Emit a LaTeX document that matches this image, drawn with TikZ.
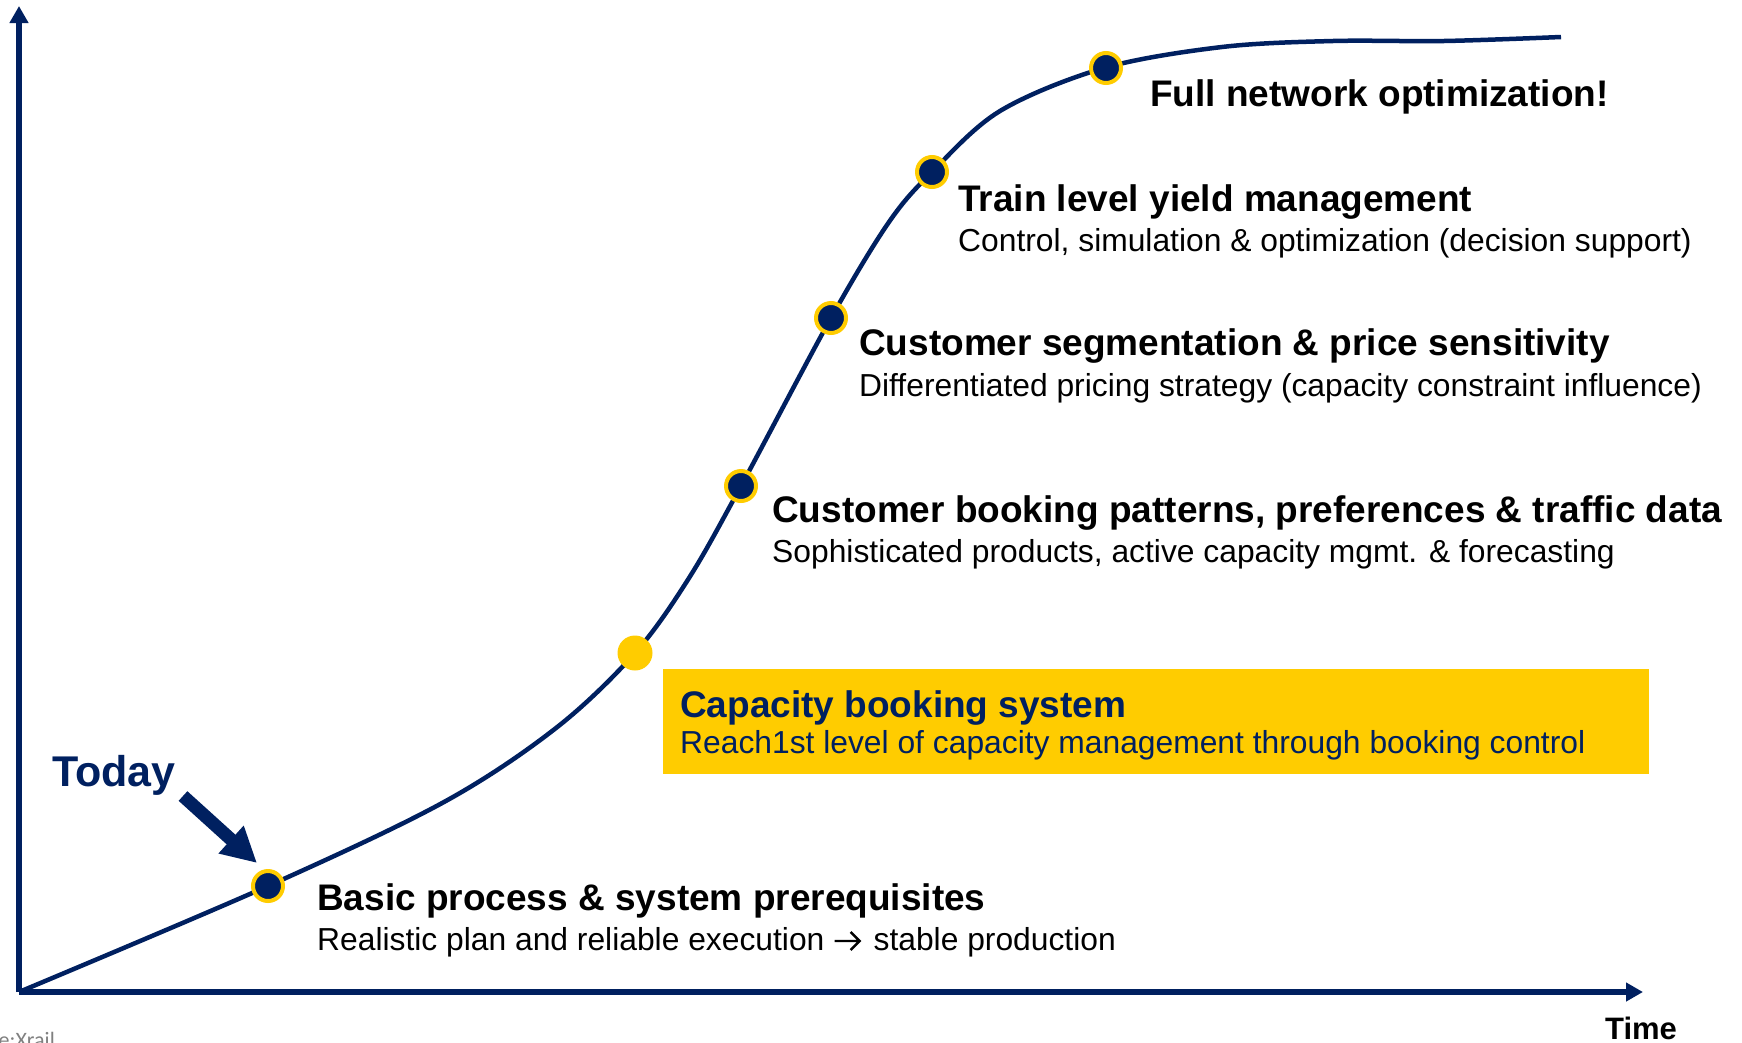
\documentclass[tikz,border=0pt]{standalone}
\usepackage{fontspec}
\setmainfont{Liberation Sans}
\newfontfamily\srcfont{Carlito}
\usetikzlibrary{arrows.meta}
\definecolor{navy}{RGB}{0,32,96}
\definecolor{gold}{RGB}{255,204,0}
\newcommand{\myrarrow}{\tikz[baseline=0pt, x=1pt, y=1pt]{\draw[line width=2.4pt, line join=miter] (0,9) -- (25,9) (16,18) -- (25,9) -- (16,0);}}
\begin{document}
\begin{tikzpicture}[x=1pt,y=-1pt,
  ttl/.style={anchor=base west, inner sep=0pt, font=\fontsize{37}{40}\selectfont\bfseries},
  sub/.style={anchor=base west, inner sep=0pt, font=\fontsize{31.8}{36}\selectfont},
  milestone/.style={circle, fill=navy, draw=gold, line width=4pt, minimum size=30pt, inner sep=0pt},
  golddot/.style={circle, fill=gold, minimum size=35pt, inner sep=0pt},
  axis/.style={draw=navy, line width=5.5pt, -{Triangle[width=18pt,length=17pt]}},
  curve/.style={draw=navy, line width=4.5pt}]
\useasboundingbox (0,0) rectangle (1742,1042);
% axes
\coordinate (origin) at (19,992);
\coordinate (ytop) at (19,6);
\coordinate (xend) at (1643,992);
\draw[axis] (origin) -- (ytop);
\draw[axis] (origin) -- (xend);
% curve
\draw[curve] plot[smooth, tension=0.55] coordinates {(19,992) (268,886) (444,802) (556,728) (635,653) (689,578) (741,486) (831,318) (889,222) (932,172) (1000,111) (1104,68) (1222,47) (1333,41) (1444,41) (1561,37)};
% dots
\node[milestone] (d1) at (268,886) {};
\node[golddot] (dy) at (635,653) {};
\node[milestone] (d3) at (741,486) {};
\node[milestone] (d4) at (831,318) {};
\node[milestone] (d5) at (932,172) {};
\node[milestone] (d6) at (1106,68) {};
% texts
\node[ttl] (t6) at (1150,106) {Full network optimization!};
\node[ttl] (t5) at (958,211) {Train level yield management};
\node[sub] (s5) at (958,251.5) {Control, simulation \& optimization (decision support)};
\node[ttl] (t4) at (859,355) {Customer segmentation \& price sensitivity};
\node[sub] (s4) at (859,396) {Differentiated pricing strategy (capacity constraint influence)};
\node[ttl] (t3) at (772,522) {Customer booking patterns, preferences \& traffic data};
\node[sub] (s3) at (772,562.5) {Sophisticated products, active capacity mgmt. \& forecasting};
% capacity box
\node[fill=gold, minimum width=986pt, minimum height=105pt, anchor=north west, inner sep=0pt] (capbox) at (663,669) {};
\node[ttl, text=navy] (t2) at (680,717) {Capacity booking system};
\node[sub, text=navy] (s2) at (680,753.5) {Reach1st level of capacity management through booking control};
\node[ttl] (t1) at (317,910) {Basic process \& system prerequisites};
\node[sub] (s1) at (317,950) {Realistic plan and reliable execution \myrarrow\kern4pt{} stable production};
% today
\node[anchor=base west, inner sep=0pt, text=navy, font=\fontsize{43}{45}\selectfont\bfseries] (today) at (52,786) {Today};
\coordinate (todaytail) at (183,796);
\coordinate (todaytip) at (257,863);
\draw[navy, line width=13pt, -{Triangle[width=35pt,length=35pt]}] (todaytail) -- (todaytip);
% time
\node[anchor=base, inner sep=0pt, font=\fontsize{31}{34}\selectfont\bfseries] (time) at (1641,1039) {Time};
% source
\node[anchor=base east, inner sep=0pt, text=black!50, font=\srcfont\fontsize{22}{24}\selectfont] (src) at (55,1047) {Source:Xrail};
\end{tikzpicture}
\end{document}
